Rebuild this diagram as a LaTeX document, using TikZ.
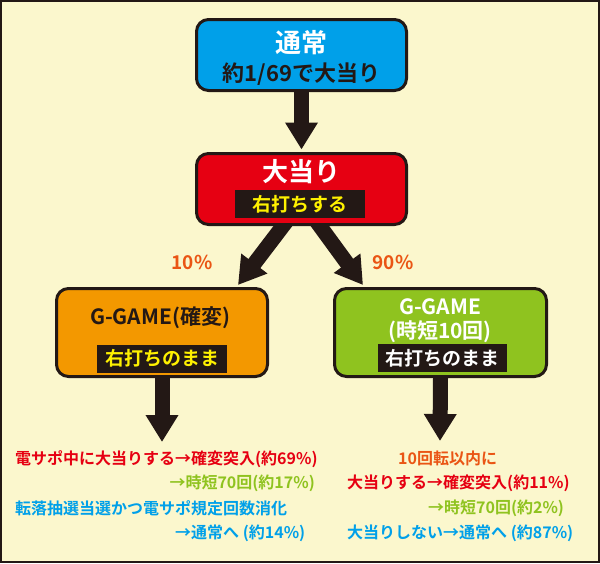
\documentclass[tikz,border=0pt]{standalone}
\usepackage{fontspec}
\setmainfont{Noto Sans CJK JP}[BoldFont={Noto Sans CJK JP Bold}]
\usetikzlibrary{arrows.meta}
\definecolor{bg}{HTML}{FBF7CD}
\definecolor{dk}{HTML}{231815}
\definecolor{cy}{HTML}{00A0E9}
\definecolor{rd}{HTML}{E60012}
\definecolor{orb}{HTML}{F39800}
\definecolor{gr}{HTML}{8FC31F}
\definecolor{yl}{HTML}{FFF100}
\definecolor{ort}{HTML}{EA5514}
\pgfdeclarelayer{back}
\pgfsetlayers{back,main}
\begin{document}
\begin{tikzpicture}[x=1pt,y=-1pt,
  box/.style={draw=dk, line width=3pt, rounded corners=12pt, inner sep=0pt},
  band/.style={fill=dk, inner sep=0pt, minimum height=28pt, font=\fontsize{19}{19}\selectfont\bfseries},
  big/.style={inner sep=0pt, font=\fontsize{26}{26}\selectfont\bfseries},
  mid/.style={inner sep=0pt, font=\fontsize{21}{21}\selectfont\bfseries},
  pct/.style={inner sep=0pt, text=ort, font=\fontsize{19}{19}\selectfont\bfseries},
  small/.style={inner sep=0pt, font=\fontsize{16}{16}\selectfont\bfseries},
  arr/.style={line width=15pt, draw=dk, -{Triangle[width=31pt,length=27pt]}}
]
\useasboundingbox (0,0) rectangle (600,563);
\begin{pgfonlayer}{back}
\fill[bg] (0,0) rectangle (600,563);
\end{pgfonlayer}
\draw[dk, line width=2pt] (1,1) rectangle (599,562);

% top box
\node[box, fill=cy, minimum width=210pt, minimum height=71pt] (tsujo) at (301.5,55) {};
\node[big, text=white] (t1) at (301.5,43) {通常};
\node[inner sep=0pt, font=\fontsize{22}{22}\selectfont\bfseries, text=dk] (t2) at (301.5,74) {約1/69で大当り};

% atari box
\node[box, fill=rd, minimum width=210pt, minimum height=71pt] (atari) at (301.5,189) {};
\node[big, text=white] (a1) at (301.5,172) {大当り};
\node[band, minimum width=130pt, text=yl] (b1) at (300,204) {右打ちする};

% kakuhen box
\node[box, fill=orb, minimum width=211pt, minimum height=88pt] (kaku) at (162,332.5) {};
\node[mid, text=dk] (k1) at (160,318) {G-GAME(確変)};
\node[band, minimum width=130pt, text=yl] (b2) at (162,358.5) {右打ちのまま};

% jitan box
\node[box, fill=gr, minimum width=212pt, minimum height=88pt] (jitan) at (440.5,332.5) {};
\node[mid, text=white] (j1) at (440,307) {G-GAME};
\node[mid, text=white] (j2) at (440,332) {(時短10回)};
\node[band, minimum width=129pt, text=white] (b3) at (442.5,358) {右打ちのまま};

% percentages
\node[pct] (p10) at (192,262) {10\%};
\node[pct] (p90) at (393,262) {90\%};

% bottom left texts
\node[small, anchor=west, text=rd] (l1) at (15,459) {電サポ中に大当りする→確変突入(約69\%)};
\node[small, anchor=east, text=gr] (l2) at (315,483) {→時短70回(約17\%)};
\node[small, anchor=west, text=cy] (l3) at (15,508) {転落抽選当選かつ電サポ規定回数消化};
\node[small, anchor=west, text=cy] (l4) at (175,533) {→通常へ (約14\%)};

% bottom right texts
\node[small, anchor=west, text=ort] (r1) at (398,458) {10回転以内に};
\node[small, anchor=west, text=rd] (r2) at (347,483) {大当りする→確変突入(約11\%)};
\node[small, anchor=west, text=gr] (r3) at (428,508) {→時短70回(約2\%)};
\node[small, anchor=west, text=cy] (r4) at (347,533) {大当りしない→通常へ (約87\%)};

\coordinate (dl) at (162,442);
\coordinate (dr) at (440,441);

\begin{pgfonlayer}{back}
\draw[arr] (tsujo.south) -- ([yshift=2.5pt]atari.north);
\draw[arr] ([xshift=-14pt,yshift=6pt]atari.south) -- ([xshift=-31pt,yshift=2pt]kaku.north east);
\draw[arr] ([xshift=14pt,yshift=6pt]atari.south) -- ([xshift=30pt,yshift=2pt]jitan.north west);
\draw[arr] (kaku.south) -- (dl);
\draw[arr] (jitan.south) -- (dr);
\end{pgfonlayer}
\end{tikzpicture}
\end{document}
